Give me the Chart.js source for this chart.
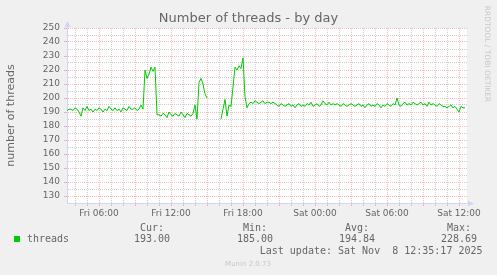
<!DOCTYPE html>
<html>
<head>
<meta charset="utf-8">
<style>
  html, body { margin: 0; padding: 0; background: #f0f0f0; }
  #wrap { width: 497px; height: 275px; }
</style>
</head>
<body>
<div id="wrap"><canvas id="threadsChart" width="497" height="275"></canvas></div>
<script src="https://cdn.jsdelivr.net/npm/chart.js"></script>
<script>
  // one value every 10 minutes, first one at Fri 03:20 (minute 200 counted from Fri 00:00)
  const startMinute = 200
  const stepMinutes = 10
  const threads = [
    191, 192, 192, 191, 193, 192, 190, 187, 193, 191, 194, 191, 192, 190, 192, 191, 193, 192, 190, 192,
    191, 194, 192, 191, 193, 191, 192, 190, 193, 192, 191, 194, 192, 192, 193, 191, 192, 195, 192,
    220, 214, 217, 222, 219, 222,
    188, 188, 187, 189, 188, 186, 190, 188, 187, 189, 188, 187, 190, 188, 186, 189, 188, 187, 189,
    195, 185, 211, 214, 210, 203, 200,
    null, null, null, null, null, null,
    185, 192, 199, 187, 195, 194, 208, 222, 220, 223, 221, 228.69, 201, 193,
    196, 197, 196, 198, 197, 196, 197, 198, 196, 197, 197, 196, 197, 196,
    195, 194, 196, 195, 194, 195, 196, 194, 195, 193, 195, 196, 194, 195,
    194, 196, 195, 197, 194, 195, 196, 194, 195, 198, 196, 195, 197, 195,
    196, 195, 196, 195, 194, 196, 195, 194, 195, 196, 195, 194, 195, 196,
    194, 195, 193, 195, 196, 194, 195, 194, 196, 195, 193, 195, 194, 196,
    195, 194, 196, 195, 200, 195, 194, 196, 197, 195, 196, 195, 197, 196,
    195, 196, 197, 195, 196, 194, 197, 195, 196, 195, 194, 196, 195, 194,
    194, 193, 194, 195, 193, 194, 192, 190, 194, 193, 193
  ]
  const tickMinutes = [360, 720, 1080, 1440, 1800, 2160]
  const tickLabels = ['Fri 06:00', 'Fri 12:00', 'Fri 18:00', 'Sat 00:00', 'Sat 06:00', 'Sat 12:00']
  const statNames = ['Cur:', 'Min:', 'Avg:', 'Max:']
  const statValues = ['193.00', '185.00', '194.84', '228.69']
  const lastUpdate = 'Last update: Sat Nov  8 12:35:17 2025'

  const points = threads.map((v, i) => ({ x: startMinute + i * stepMinutes, y: v }))
  const hourTicks = []
  for (let m = 240; m <= 2160; m += 60) hourTicks.push({ value: m })

  const RED = 'rgba(235, 90, 90, 0.42)'
  const GRAY = 'rgba(140, 140, 140, 0.42)'
  const FONT = '#666666'
  const AXIS = '#CFD6F8'
  const sans = '"DejaVu Sans", sans-serif'
  const mono = '"DejaVu Sans Mono", monospace'

  const munin = {
    id: 'munin',
    beforeDraw(chart) {
      const { ctx, chartArea: a } = chart
      ctx.save()
      ctx.fillStyle = '#f0f0f0'
      ctx.fillRect(0, 0, chart.width, chart.height)
      ctx.fillStyle = '#ffffff'
      ctx.fillRect(a.left, a.top, a.right - a.left, a.bottom - a.top)
      ctx.restore()
    },
    afterDraw(chart) {
      const { ctx, chartArea: a } = chart
      ctx.save()
      // axis extensions + arrows
      ctx.strokeStyle = AXIS
      ctx.fillStyle = AXIS
      ctx.lineWidth = 1
      ctx.beginPath()
      ctx.moveTo(a.left + 0.5, a.top)
      ctx.lineTo(a.left + 0.5, a.top - 4)
      ctx.moveTo(a.right, a.bottom + 0.5)
      ctx.lineTo(a.right + 3, a.bottom + 0.5)
      ctx.stroke()
      ctx.beginPath()
      ctx.moveTo(a.left + 0.5, a.top - 7)
      ctx.lineTo(a.left - 2.5, a.top - 1)
      ctx.lineTo(a.left + 3.5, a.top - 1)
      ctx.fill()
      ctx.beginPath()
      ctx.moveTo(a.right + 7, a.bottom + 0.5)
      ctx.lineTo(a.right + 1, a.bottom - 2.5)
      ctx.lineTo(a.right + 1, a.bottom + 3.5)
      ctx.fill()

      // title
      ctx.fillStyle = FONT
      ctx.textBaseline = 'middle'
      ctx.textAlign = 'center'
      ctx.font = '13px ' + sans
      ctx.fillText('Number of threads - by day', 248.5, 19)

      // legend + stats
      ctx.fillStyle = '#00cc00'
      ctx.fillRect(14, 236, 6, 6)
      ctx.fillStyle = FONT
      ctx.textAlign = 'left'
      ctx.font = '10px ' + mono
      ctx.fillText('threads', 27, 239.5)
      const nameX = [140, 243, 345, 447]
      const valueX = [134, 237, 339, 441]
      statNames.forEach((s, i) => ctx.fillText(s, nameX[i], 228))
      statValues.forEach((s, i) => ctx.fillText(s, valueX[i], 239.5))
      ctx.textAlign = 'right'
      ctx.fillText(lastUpdate, 482.5, 251)

      // footer + side credit
      ctx.fillStyle = '#c8c8c8'
      ctx.textAlign = 'center'
      ctx.font = '7px ' + sans
      ctx.fillText('Munin 2.0.73', 248, 264)
      ctx.translate(487, 54)
      ctx.rotate(Math.PI / 2)
      ctx.font = '7.5px ' + sans
      ctx.fillText('RRDTOOL / TOBI OETIKER', 0, 0)
      ctx.restore()
    }
  }

  new Chart(document.getElementById('threadsChart'), {
    type: 'line',
    data: {
      datasets: [{
        label: 'threads',
        data: points,
        borderColor: '#00cc00',
        borderWidth: 1,
        pointRadius: 0,
        tension: 0,
        spanGaps: false
      }]
    },
    options: {
      responsive: false,
      animation: false,
      layout: { padding: { top: 28, left: 0, right: 30, bottom: 52 } },
      plugins: {
        legend: { display: false },
        tooltip: { enabled: false }
      },
      scales: {
        x: {
          type: 'linear',
          min: 200,
          max: 2200,
          afterFit: s => { s.height = 20 },
          afterBuildTicks: s => { s.ticks = hourTicks.map(t => ({ value: t.value })) },
          ticks: {
            autoSkip: false,
            maxRotation: 0,
            padding: 2,
            color: FONT,
            font: { family: sans, size: 9 },
            callback: v => {
              const k = tickMinutes.indexOf(v)
              return k < 0 ? '' : tickLabels[k]
            }
          },
          grid: {
            color: c => (c.tick && c.tick.value % 180 === 0 ? RED : GRAY),
            tickColor: c => (c.tick && c.tick.value % 180 === 0 ? RED : GRAY),
            tickLength: 3
          },
          border: { color: AXIS, dash: [1, 1] }
        },
        y: {
          min: 125,
          max: 250,
          afterFit: s => { s.width = 67 },
          ticks: {
            stepSize: 5,
            autoSkip: false,
            padding: 4,
            color: FONT,
            font: { family: sans, size: 9 },
            callback: v => (v % 10 === 0 ? v : '')
          },
          grid: {
            color: c => (c.tick && c.tick.value === 125 ? 'rgba(0,0,0,0)' : (c.tick && c.tick.value % 10 === 0 ? RED : GRAY)),
            tickColor: c => (c.tick && c.tick.value % 10 === 0 ? RED : 'rgba(0,0,0,0)'),
            tickLength: 3
          },
          border: { color: AXIS, dash: [1, 1] },
          title: {
            display: true,
            text: 'number of threads',
            color: FONT,
            font: { family: sans, size: 11 },
            padding: { top: 5, bottom: 0 }
          }
        }
      }
    },
    plugins: [munin]
  })
</script>
</body>
</html>
